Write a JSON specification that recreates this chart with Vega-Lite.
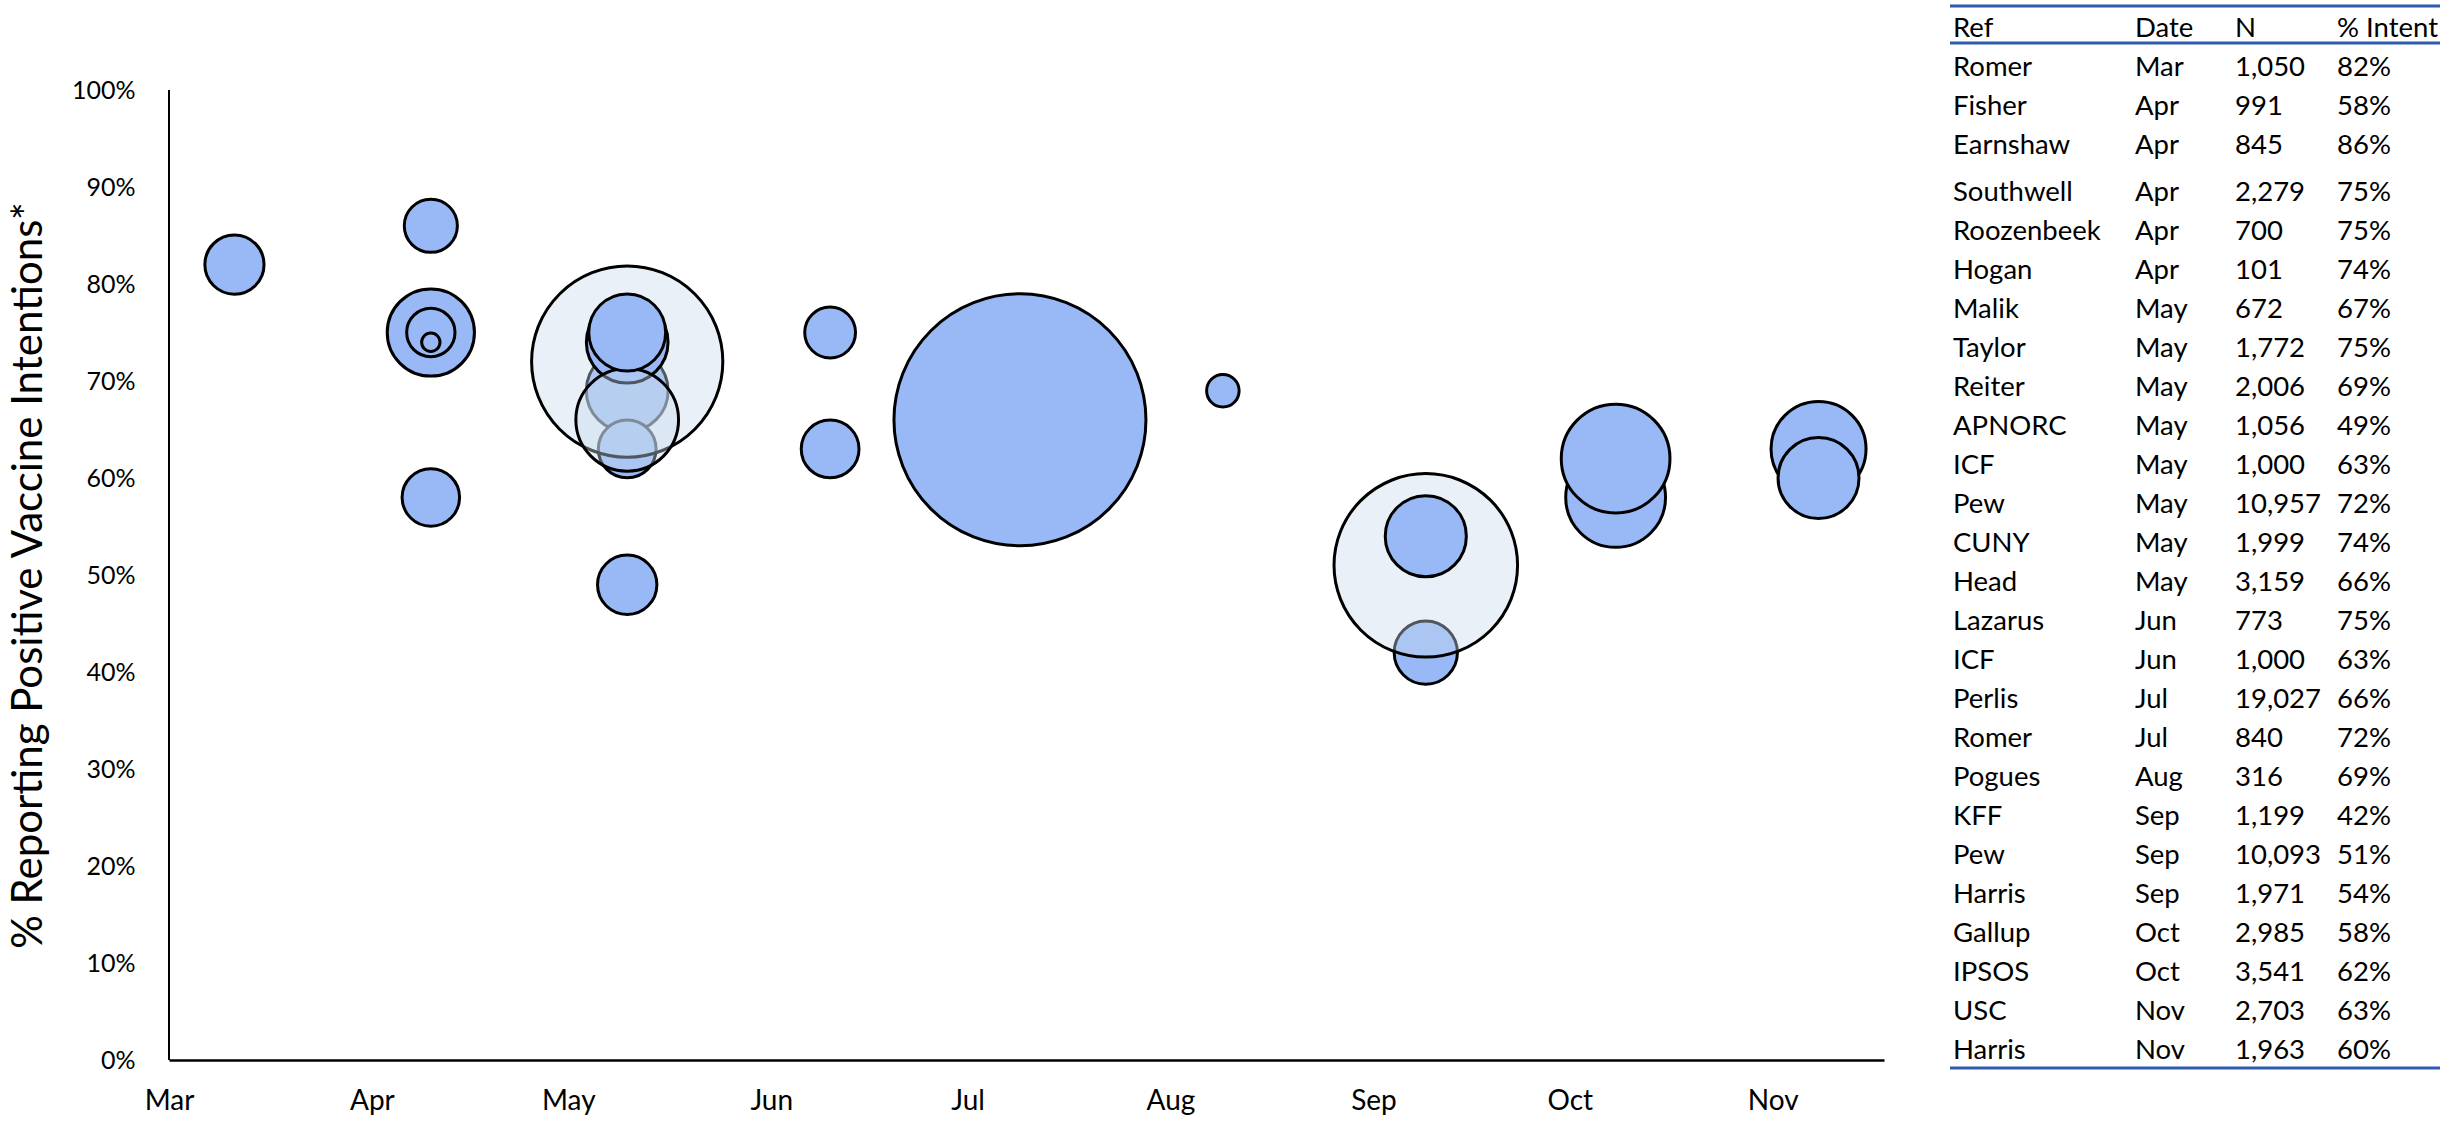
{
  "$schema": "https://vega.github.io/schema/vega-lite/v6.json",
  "background": "white",
  "padding": {"left": 7, "top": 0, "right": 0, "bottom": 0},
  "bounds": "flush",
  "spacing": 66,
  "config": {"view": {"stroke": null}, "font": "Lato", "axis": {"grid": false}},
  "datasets": {
    "table": [
      {"Ref": "Romer", "Month": "Mar", "N": 1050, "Intent": 0.82},
      {"Ref": "Fisher", "Month": "Apr", "N": 991, "Intent": 0.58},
      {"Ref": "Earnshaw", "Month": "Apr", "N": 845, "Intent": 0.86},
      {"Ref": "Southwell", "Month": "Apr", "N": 2279, "Intent": 0.75},
      {"Ref": "Roozenbeek", "Month": "Apr", "N": 700, "Intent": 0.75},
      {"Ref": "Hogan", "Month": "Apr", "N": 101, "Intent": 0.74},
      {"Ref": "Malik", "Month": "May", "N": 672, "Intent": 0.67},
      {"Ref": "Taylor", "Month": "May", "N": 1772, "Intent": 0.75},
      {"Ref": "Reiter", "Month": "May", "N": 2006, "Intent": 0.69},
      {"Ref": "APNORC", "Month": "May", "N": 1056, "Intent": 0.49},
      {"Ref": "ICF", "Month": "May", "N": 1000, "Intent": 0.63},
      {"Ref": "Pew", "Month": "May", "N": 10957, "Intent": 0.72},
      {"Ref": "CUNY", "Month": "May", "N": 1999, "Intent": 0.74},
      {"Ref": "Head", "Month": "May", "N": 3159, "Intent": 0.66},
      {"Ref": "Lazarus", "Month": "Jun", "N": 773, "Intent": 0.75},
      {"Ref": "ICF", "Month": "Jun", "N": 1000, "Intent": 0.63},
      {"Ref": "Perlis", "Month": "Jul", "N": 19027, "Intent": 0.66},
      {"Ref": "Romer", "Month": "Jul", "N": 840, "Intent": 0.72},
      {"Ref": "Pogues", "Month": "Aug", "N": 316, "Intent": 0.69},
      {"Ref": "KFF", "Month": "Sep", "N": 1199, "Intent": 0.42},
      {"Ref": "Pew", "Month": "Sep", "N": 10093, "Intent": 0.51},
      {"Ref": "Harris", "Month": "Sep", "N": 1971, "Intent": 0.54},
      {"Ref": "Gallup", "Month": "Oct", "N": 2985, "Intent": 0.58},
      {"Ref": "IPSOS", "Month": "Oct", "N": 3541, "Intent": 0.62},
      {"Ref": "USC", "Month": "Nov", "N": 2703, "Intent": 0.63},
      {"Ref": "Harris", "Month": "Nov", "N": 1963, "Intent": 0.60}
    ],
    "bubbles": [
      {"Ref": "Romer", "Plotted": "2020-03-11", "N": 1050, "Intent": 0.82},
      {"Ref": "Fisher", "Plotted": "2020-04-10", "N": 991, "Intent": 0.58},
      {"Ref": "Earnshaw", "Plotted": "2020-04-10", "N": 845, "Intent": 0.86},
      {"Ref": "Southwell", "Plotted": "2020-04-10", "N": 2279, "Intent": 0.75},
      {"Ref": "Roozenbeek", "Plotted": "2020-04-10", "N": 700, "Intent": 0.75},
      {"Ref": "Hogan", "Plotted": "2020-04-10", "N": 101, "Intent": 0.74},
      {"Ref": "Malik", "Plotted": "2020-05-10", "N": 672, "Intent": 0.67},
      {"Ref": "Reiter", "Plotted": "2020-05-10", "N": 2006, "Intent": 0.69},
      {"Ref": "APNORC", "Plotted": "2020-05-10", "N": 1056, "Intent": 0.49},
      {"Ref": "ICF", "Plotted": "2020-05-10", "N": 1000, "Intent": 0.63},
      {"Ref": "Pew", "Plotted": "2020-05-10", "N": 10957, "Intent": 0.72},
      {"Ref": "CUNY", "Plotted": "2020-05-10", "N": 1999, "Intent": 0.74},
      {"Ref": "Head", "Plotted": "2020-05-10", "N": 3159, "Intent": 0.66},
      {"Ref": "Taylor", "Plotted": "2020-05-10", "N": 1772, "Intent": 0.75},
      {"Ref": "Lazarus", "Plotted": "2020-06-10", "N": 773, "Intent": 0.75},
      {"Ref": "ICF", "Plotted": "2020-06-10", "N": 1000, "Intent": 0.63},
      {"Ref": "Romer", "Plotted": "2020-07-09", "N": 840, "Intent": 0.72},
      {"Ref": "Perlis", "Plotted": "2020-07-09", "N": 19027, "Intent": 0.66},
      {"Ref": "Pogues", "Plotted": "2020-08-09", "N": 316, "Intent": 0.69},
      {"Ref": "KFF", "Plotted": "2020-09-09", "N": 1199, "Intent": 0.42},
      {"Ref": "Pew", "Plotted": "2020-09-09", "N": 10093, "Intent": 0.51},
      {"Ref": "Harris", "Plotted": "2020-09-09", "N": 1971, "Intent": 0.54},
      {"Ref": "Gallup", "Plotted": "2020-10-08", "N": 2985, "Intent": 0.58},
      {"Ref": "IPSOS", "Plotted": "2020-10-08", "N": 3541, "Intent": 0.62},
      {"Ref": "USC", "Plotted": "2020-11-08", "N": 2703, "Intent": 0.63},
      {"Ref": "Harris", "Plotted": "2020-11-08", "N": 1963, "Intent": 0.60}
    ]
  },
  "hconcat": [
    {
      "width": 1715,
      "height": 1060,
      "layer": [
        {
          "data": {"values": [{}]},
          "mark": {"type": "rule", "color": "black", "strokeWidth": 2},
          "encoding": {
            "x": {"datum": {"year": 2020, "month": 3, "date": 1, "utc": true}, "type": "temporal", "title": null},
            "y": {"datum": 0, "type": "quantitative", "title": null},
            "y2": {"datum": 1}
          }
        },
        {
          "data": {"name": "bubbles"},
          "mark": {"type": "point", "filled": true, "shape": "circle", "stroke": "black", "strokeWidth": 3, "opacity": 1, "strokeOpacity": 1},
          "encoding": {
            "x": {
              "field": "Plotted", "type": "temporal",
              "scale": {"type": "utc", "domain": [{"year": 2020, "month": 3, "date": 1, "utc": true}, {"year": 2020, "month": 11, "date": 18, "utc": true}], "nice": false},
              "axis": {"title": null, "format": "%b", "tickCount": {"interval": "month", "step": 1}, "domain": true, "domainColor": "black", "domainWidth": 2.5, "ticks": false, "labelFontSize": 28, "labelPadding": 27, "labelColor": "black", "labelFlush": false, "labelOverlap": false, "grid": false}
            },
            "y": {
              "field": "Intent", "type": "quantitative",
              "scale": {"domain": [0, 1.0928], "nice": false, "zero": true},
              "axis": {"values": [0, 0.1, 0.2, 0.3, 0.4, 0.5, 0.6, 0.7, 0.8, 0.9, 1], "format": ".0%", "domain": false, "ticks": false, "grid": false, "labelFontSize": 25, "labelPadding": 34, "labelColor": "black", "title": "% Reporting Positive Vaccine Intentions*", "titleFontSize": 42, "titleFontWeight": "normal", "titleColor": "black", "titleAngle": -90, "titleX": -141, "titleY": 575, "titleAlign": "center", "titleBaseline": "middle"}
            },
            "size": {"field": "N", "type": "quantitative", "scale": {"type": "linear", "domain": [0, 19027], "range": [0, 63504], "zero": true}, "legend": null},
            "fill": {"condition": {"test": "datum.Ref === 'Pew' || datum.Ref === 'Head'", "value": "#C8DAED"}, "value": "#98B9F5"},
            "fillOpacity": {"condition": {"test": "datum.Ref === 'Pew' || datum.Ref === 'Head'", "value": 0.4}, "value": 1}
          }
        }
      ]
    },
    {
      "width": 490,
      "height": 1075,
      "data": {"name": "table"},
      "layer": [
        {
          "transform": [{"window": [{"op": "row_number", "as": "row"}]}],
          "mark": {"type": "text", "align": "left", "baseline": "middle", "fontSize": 27.5, "color": "black", "dy": {"expr": "datum.row > 3 ? 8 : 0"}},
          "encoding": {
            "x": {"datum": 3, "type": "quantitative", "scale": {"domain": [0, 490], "nice": false, "zero": false}, "axis": null},
            "y": {"field": "row", "type": "quantitative", "scale": {"domain": [-0.7436, 26.821], "reverse": true, "nice": false, "zero": false}, "axis": null},
            "text": {"field": "Ref"}
          }
        },
        {
          "transform": [{"window": [{"op": "row_number", "as": "row"}]}],
          "mark": {"type": "text", "align": "left", "baseline": "middle", "fontSize": 27.5, "color": "black", "dy": {"expr": "datum.row > 3 ? 8 : 0"}},
          "encoding": {"x": {"datum": 185, "type": "quantitative"}, "y": {"field": "row", "type": "quantitative"}, "text": {"field": "Month"}}
        },
        {
          "transform": [{"window": [{"op": "row_number", "as": "row"}]}],
          "mark": {"type": "text", "align": "left", "baseline": "middle", "fontSize": 27.5, "color": "black", "dy": {"expr": "datum.row > 3 ? 8 : 0"}},
          "encoding": {"x": {"datum": 285, "type": "quantitative"}, "y": {"field": "row", "type": "quantitative"}, "text": {"field": "N", "format": ","}}
        },
        {
          "transform": [{"window": [{"op": "row_number", "as": "row"}]}],
          "mark": {"type": "text", "align": "left", "baseline": "middle", "fontSize": 27.5, "color": "black", "dy": {"expr": "datum.row > 3 ? 8 : 0"}},
          "encoding": {"x": {"datum": 387, "type": "quantitative"}, "y": {"field": "row", "type": "quantitative"}, "text": {"field": "Intent", "format": ".0%"}}
        },
        {
          "data": {"values": [{}]},
          "mark": {"type": "text", "text": "Ref", "align": "left", "baseline": "middle", "fontSize": 27.5, "color": "black"},
          "encoding": {"x": {"datum": 3, "type": "quantitative"}, "y": {"datum": 0, "type": "quantitative"}}
        },
        {
          "data": {"values": [{}]},
          "mark": {"type": "text", "text": "Date", "align": "left", "baseline": "middle", "fontSize": 27.5, "color": "black"},
          "encoding": {"x": {"datum": 185, "type": "quantitative"}, "y": {"datum": 0, "type": "quantitative"}}
        },
        {
          "data": {"values": [{}]},
          "mark": {"type": "text", "text": "N", "align": "left", "baseline": "middle", "fontSize": 27.5, "color": "black"},
          "encoding": {"x": {"datum": 285, "type": "quantitative"}, "y": {"datum": 0, "type": "quantitative"}}
        },
        {
          "data": {"values": [{}]},
          "mark": {"type": "text", "text": "% Intent", "align": "left", "baseline": "middle", "fontSize": 27.5, "color": "black"},
          "encoding": {"x": {"datum": 387, "type": "quantitative"}, "y": {"datum": 0, "type": "quantitative"}}
        },
        {
          "data": {"values": [{}]},
          "mark": {"type": "rule", "color": "#2F5BAE", "strokeWidth": 3},
          "encoding": {"y": {"datum": -0.59, "type": "quantitative"}}
        },
        {
          "data": {"values": [{}]},
          "mark": {"type": "rule", "color": "#2F5BAE", "strokeWidth": 3},
          "encoding": {"y": {"datum": 0.359, "type": "quantitative"}}
        },
        {
          "data": {"values": [{}]},
          "mark": {"type": "rule", "color": "#2F5BAE", "strokeWidth": 3},
          "encoding": {"y": {"datum": 26.641, "type": "quantitative"}}
        }
      ]
    }
  ]
}
